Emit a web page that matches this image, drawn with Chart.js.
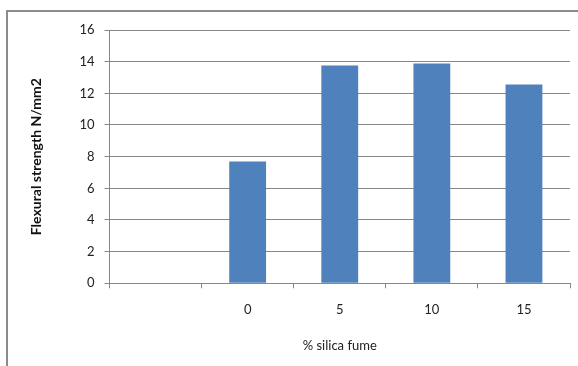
<!DOCTYPE html>
<html>
<head>
<meta charset="utf-8">
<script src="https://cdn.jsdelivr.net/npm/chart.js@4"></script>
<style>
  html, body { margin: 0; padding: 0; background: #fff; }
  #wrap { position: relative; width: 578px; height: 366px; overflow: hidden; }
  #frame { position: absolute; left: 6px; top: 10px; width: 700px; height: 500px; border: 2px solid #8c8c8c; box-sizing: border-box; }
  canvas { position: absolute; left: 0; top: 0; }
</style>
</head>
<body>
<div id="wrap">
  <div id="frame"></div>
  <canvas id="chart" width="578" height="366"></canvas>
</div>
<script>
// kategori sumbu x (kategori pertama kosong)
const categories = ['', '0', '5', '10', '15'];
// kuat lentur N/mm2
const flexural = [null, 7.7, 13.75, 13.88, 12.55];
const yTicks = [0, 2, 4, 6, 8, 10, 12, 14, 16];

const gridColor = '#878787';
const font = 'Lato, "Open Sans", sans-serif';

new Chart(document.getElementById('chart'), {
  type: 'bar',
  data: {
    labels: categories,
    datasets: [{
      label: 'Flexural strength',
      data: flexural,
      backgroundColor: '#4f81bd',
      categoryPercentage: 0.4,
      barPercentage: 1.0
    }]
  },
  options: {
    responsive: false,
    animation: false,
    layout: { padding: { left: 24, top: 30, right: 8, bottom: 0 } },
    plugins: { legend: { display: false }, tooltip: { enabled: false } },
    scales: {
      x: {
        grid: { drawOnChartArea: false, drawTicks: true, tickLength: 5, color: gridColor },
        border: { color: gridColor },
        ticks: { color: '#222', font: { family: font, size: 13 }, padding: 14 },
        title: { display: true, text: '% silica fume', color: '#222', font: { family: font, size: 13 }, padding: { top: 8, bottom: 12 } },
        afterFit: s => { s.height = 82.7; }
      },
      y: {
        min: 0, max: 16,
        afterBuildTicks: s => { s.ticks = yTicks.map(v => ({ value: v })); },
        grid: { color: gridColor, tickLength: 5 },
        border: { color: gridColor },
        ticks: { color: '#222', font: { family: font, size: 13 }, padding: 10 },
        title: { display: true, text: 'Flexural strength N/mm2', color: '#111', font: { family: font, size: 14, weight: 'bold' }, padding: { top: 4, bottom: 0 } },
        afterFit: s => { s.width = 85.5; }
      }
    }
  }
});
</script>
</body>
</html>
